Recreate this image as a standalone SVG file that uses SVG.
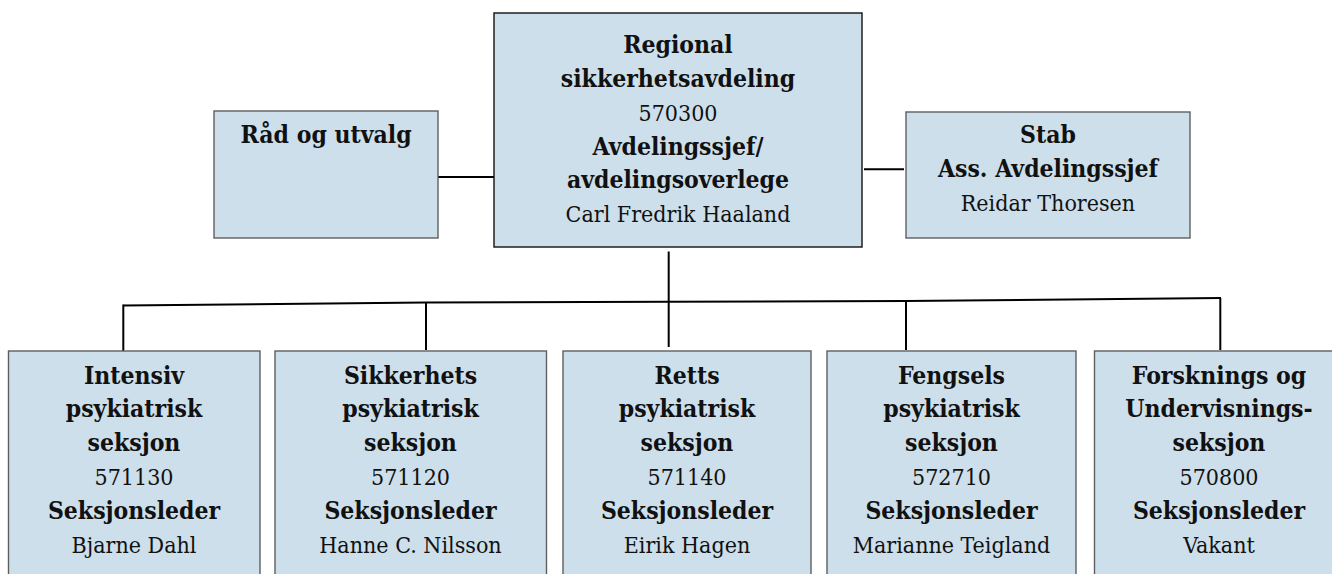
<svg xmlns="http://www.w3.org/2000/svg" width="1332" height="574" viewBox="0 0 1332 574">
<style>
.box{fill:#cddfeb;stroke:#5e5e5e;stroke-width:1.4}
.top{stroke:#111}
text{font-family:"DejaVu Serif Condensed","DejaVu Serif",serif;font-size:23px;fill:#111;text-anchor:middle;font-stretch:condensed}
.b{font-weight:bold;font-size:24.5px}
.c{fill:none;stroke:#000;stroke-width:2}
</style>
<rect width="1332" height="574" fill="#fff"/>
<g id="connectors">
<line class="c" x1="433" y1="177" x2="494" y2="177"/>
<line class="c" x1="864" y1="169.3" x2="904" y2="169.3"/>
<line class="c" x1="668.7" y1="251.5" x2="668.7" y2="347"/>
<polyline class="c" points="123.3,305.5 426,302.5 668.7,301.7 906,301 1221,298"/>
<line class="c" x1="123.3" y1="304.5" x2="123.3" y2="353"/>
<line class="c" x1="426" y1="302" x2="426" y2="350"/>
<line class="c" x1="906" y1="301" x2="906" y2="350"/>
<line class="c" x1="1220.3" y1="298" x2="1220.3" y2="350"/>
</g>
<g id="regional">
<rect class="box top" x="494" y="13" width="368" height="234"/>
<text class="b" x="678" y="53">Regional</text>
<text class="b" x="678" y="87">sikkerhetsavdeling</text>
<text x="678" y="121">570300</text>
<text class="b" x="678" y="154.5">Avdelingssjef/</text>
<text class="b" x="678" y="188">avdelingsoverlege</text>
<text x="678" y="222">Carl Fredrik Haaland</text>
</g>
<g id="rad">
<rect class="box" x="214" y="111" width="224" height="127"/>
<text class="b" x="326" y="143">Råd og utvalg</text>
</g>
<g id="stab">
<rect class="box" x="906" y="112" width="284" height="126"/>
<text class="b" x="1048" y="143">Stab</text>
<text class="b" x="1048" y="177">Ass. Avdelingssjef</text>
<text x="1048" y="210.5">Reidar Thoresen</text>
</g>
<g id="intensiv">
<rect class="box" x="8.5" y="351" width="251.5" height="240"/>
<text class="b" x="134" y="383.5">Intensiv</text>
<text class="b" x="134" y="417">psykiatrisk</text>
<text class="b" x="134" y="451">seksjon</text>
<text x="134" y="485">571130</text>
<text class="b" x="134" y="519">Seksjonsleder</text>
<text x="134" y="553">Bjarne Dahl</text>
</g>
<g id="sikkerhets">
<rect class="box" x="275" y="351" width="271.5" height="240"/>
<text class="b" x="410.5" y="383.5">Sikkerhets</text>
<text class="b" x="410.5" y="417">psykiatrisk</text>
<text class="b" x="410.5" y="451">seksjon</text>
<text x="410.5" y="485">571120</text>
<text class="b" x="410.5" y="519">Seksjonsleder</text>
<text x="410.5" y="553">Hanne C. Nilsson</text>
</g>
<g id="retts">
<rect class="box" x="563" y="351" width="248" height="240"/>
<text class="b" x="687" y="383.5">Retts</text>
<text class="b" x="687" y="417">psykiatrisk</text>
<text class="b" x="687" y="451">seksjon</text>
<text x="687" y="485">571140</text>
<text class="b" x="687" y="519">Seksjonsleder</text>
<text x="687" y="553">Eirik Hagen</text>
</g>
<g id="fengsels">
<rect class="box" x="827" y="351" width="249" height="240"/>
<text class="b" x="951.5" y="383.5">Fengsels</text>
<text class="b" x="951.5" y="417">psykiatrisk</text>
<text class="b" x="951.5" y="451">seksjon</text>
<text x="951.5" y="485">572710</text>
<text class="b" x="951.5" y="519">Seksjonsleder</text>
<text x="951.5" y="553">Marianne Teigland</text>
</g>
<g id="forsknings">
<rect class="box" x="1094.5" y="351" width="250" height="240"/>
<text class="b" x="1219" y="383.5">Forsknings og</text>
<text class="b" x="1219" y="417">Undervisnings-</text>
<text class="b" x="1219" y="451">seksjon</text>
<text x="1219" y="485">570800</text>
<text class="b" x="1219" y="519">Seksjonsleder</text>
<text x="1219" y="553">Vakant</text>
</g>
</svg>
